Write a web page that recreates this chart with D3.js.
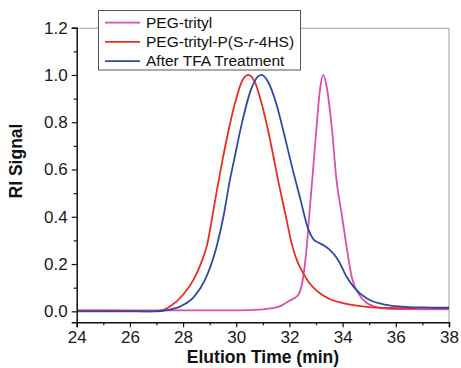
<!DOCTYPE html>
<html>
<head>
<meta charset="utf-8">
<script src="https://cdn.jsdelivr.net/npm/d3@7"></script>
<style>
  body { margin: 0; background: #fff; }
  svg { font-family: "Liberation Sans", Arial, sans-serif; }
</style>
</head>
<body>
<div id="chart"></div>
<script>
// PEG-trityl
const trityl_t = [24, 27, 30, 31.0, 31.3, 31.65, 32.0, 32.33, 32.46, 32.55, 32.65, 32.75, 32.86, 33.02, 33.15, 33.27, 33.4, 33.59, 33.77, 33.96, 34.15, 34.34, 34.59, 34.9, 35.4, 36, 38];
const trityl_v = [0.004, 0.004, 0.004, 0.008, 0.012, 0.022, 0.045, 0.069, 0.11, 0.17, 0.273, 0.414, 0.56, 0.78, 0.94, 1.0, 0.95, 0.78, 0.555, 0.414, 0.273, 0.146, 0.076, 0.036, 0.015, 0.009, 0.008];

// PEG-trityl-P(S-r-4HS)
const copoly_t = [24, 25, 26, 26.7, 27.2, 27.5, 28.0, 28.4, 28.7, 28.9, 29.1, 29.3, 29.5, 29.7, 30.0, 30.2, 30.45, 30.7, 31.0, 31.3, 31.6, 31.85, 32.1, 32.3, 32.5, 32.75, 33.0, 33.3, 33.6, 34.0, 34.4, 35.0, 35.8, 36.5, 37.0, 37.4, 38];
const copoly_v = [0.003, 0.003, 0.002, 0.0, 0.004, 0.02, 0.07, 0.135, 0.21, 0.28, 0.40, 0.53, 0.65, 0.76, 0.90, 0.97, 1.0, 0.97, 0.86, 0.71, 0.54, 0.41, 0.28, 0.21, 0.165, 0.12, 0.09, 0.065, 0.048, 0.035, 0.026, 0.018, 0.014, 0.013, 0.017, 0.014, 0.014];

// After TFA Treatment
const tfa_t = [24, 26, 27.0, 27.4, 27.88, 28.4, 28.82, 29.26, 29.54, 29.76, 29.9, 30.2, 30.5, 30.7, 30.95, 31.2, 31.5, 31.8, 32.1, 32.4, 32.7, 32.9, 33.1, 33.3, 33.5, 33.83, 34.15, 34.46, 34.9, 35.65, 36.64, 38];
const tfa_v = [0.0, 0.0, 0.0, 0.005, 0.02, 0.06, 0.132, 0.273, 0.414, 0.555, 0.63, 0.79, 0.92, 0.975, 1.0, 0.97, 0.88, 0.75, 0.61, 0.48, 0.35, 0.305, 0.29, 0.278, 0.262, 0.217, 0.146, 0.097, 0.055, 0.027, 0.017, 0.015];

const seriesNames = ["PEG-trityl", "PEG-trityl-P(S-r-4HS)", "After TFA Treatment"];
const xTicks = [24, 26, 28, 30, 32, 34, 36, 38];
const yTicks = [0.0, 0.2, 0.4, 0.6, 0.8, 1.0, 1.2];

const series = [
    {name: seriesNames[0], t: trityl_t, v: trityl_v, color: "#d94fae"},
    {name: seriesNames[1], t: copoly_t, v: copoly_v, color: "#ee2a24"},
    {name: seriesNames[2], t: tfa_t, v: tfa_v, color: "#2c4ba6"}
];

const W = 461, H = 368;
const margin = {top: 27.7, right: 12, bottom: 45.7, left: 76.7};
const width = W - margin.left - margin.right;
const height = H - margin.top - margin.bottom;

const x = d3.scaleLinear().domain([24, 38]).range([0, width]);
const y = d3.scaleLinear().domain([-0.0465, 1.2]).range([height, 0]);

const svg = d3.select("#chart").append("svg")
    .attr("width", W)
    .attr("height", H);

const g = svg.append("g")
    .attr("transform", "translate(" + margin.left + "," + margin.top + ")");

// frame top / right
g.append("path")
    .attr("d", "M0,0.5H" + width + "V" + height)
    .attr("fill", "none")
    .attr("stroke", "#9a9a9a")
    .attr("stroke-width", 1);

// curves
const line = d3.line()
    .x(d => x(d[0]))
    .y(d => y(d[1]))
    .curve(d3.curveMonotoneX);

g.append("clipPath").attr("id", "clip")
    .append("rect").attr("width", width).attr("height", height);

series.forEach(function(s) {
    g.append("path")
        .datum(s.t.map((t, i) => [t, s.v[i]]))
        .attr("clip-path", "url(#clip)")
        .attr("fill", "none")
        .attr("stroke", s.color)
        .attr("stroke-width", 1.8)
        .attr("d", line);
});

// minor ticks
const xMinor = d3.range(25, 38, 2);
const yMinor = d3.range(0.1, 1.2, 0.2);

g.append("g")
    .attr("transform", "translate(0," + height + ")")
    .call(d3.axisBottom(x).tickValues(xTicks).tickSize(5).tickPadding(4).tickFormat(d3.format("d")));
g.append("g")
    .attr("transform", "translate(0," + height + ")")
    .call(d3.axisBottom(x).tickValues(xMinor).tickSize(3).tickFormat(""))
    .call(a => a.select(".domain").remove());

g.append("g")
    .call(d3.axisLeft(y).tickValues(yTicks).tickSize(5).tickPadding(4).tickFormat(d3.format(".1f")));
g.append("g")
    .call(d3.axisLeft(y).tickValues(yMinor).tickSize(3).tickFormat(""))
    .call(a => a.select(".domain").remove());

g.selectAll(".domain").attr("stroke", "#111").attr("stroke-width", 1.5);
g.selectAll(".tick line").attr("stroke", "#111").attr("stroke-width", 1.2);
g.selectAll(".tick text")
    .attr("fill", "#1a1a1a")
    .style("font-size", "17px")
    .style("font-family", "'Liberation Sans', Arial, sans-serif");

// axis titles
svg.append("text")
    .attr("transform", "translate(21.5,161) rotate(-90)")
    .attr("text-anchor", "middle")
    .style("font-weight", "bold")
    .style("font-size", "17.5px")
    .attr("fill", "#111")
    .text("RI Signal");

svg.append("text")
    .attr("x", 263)
    .attr("y", 363)
    .attr("text-anchor", "middle")
    .style("font-weight", "bold")
    .style("font-size", "17.5px")
    .attr("fill", "#111")
    .text("Elution Time (min)");

// legend
const legend = svg.append("g").attr("transform", "translate(98.5,10.5)");
legend.append("rect")
    .attr("width", 202)
    .attr("height", 59.5)
    .attr("fill", "#fff")
    .attr("stroke", "#555")
    .attr("stroke-width", 1);

series.forEach(function(s, i) {
    const row = legend.append("g").attr("transform", "translate(0," + (12.2 + i * 19.2) + ")");
    row.append("line")
        .attr("x1", 6.5).attr("x2", 41.5)
        .attr("stroke", s.color).attr("stroke-width", 1.8);
    const txt = row.append("text")
        .attr("x", 47.5)
        .attr("y", 5.3)
        .style("font-size", "15.5px")
        .attr("fill", "#111");
    if (i === 1) {
        txt.append("tspan").text("PEG-trityl-P(S-");
        txt.append("tspan").style("font-style", "italic").text("r");
        txt.append("tspan").text("-4HS)");
    } else {
        txt.text(s.name);
    }
});
</script>
</body>
</html>
